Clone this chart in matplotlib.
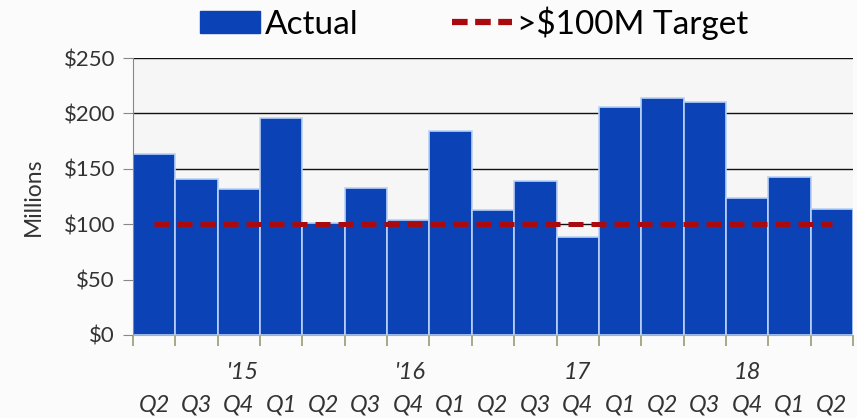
import numpy as np
import matplotlib.pyplot as plt
from matplotlib.patches import Patch
from matplotlib.lines import Line2D

quarters = ["Q2", "Q3", "Q4", "Q1", "Q2", "Q3", "Q4", "Q1", "Q2",
            "Q3", "Q4", "Q1", "Q2", "Q3", "Q4", "Q1", "Q2"]
actual = [163, 141, 132, 196, 101, 133, 104, 184, 113,
          139, 88, 206, 214, 210, 124, 143, 114]
target = [100] * len(quarters)
year_labels = ["'15", "'16", "17", "18"]
year_pos = [2.1, 6.05, 10.0, 14.0]

bar_color = "#0b42b6"
target_color = "#a80a0f"
text_color = "#333333"

plt.rcParams['font.family'] = ['Lato', 'DejaVu Sans']

fig = plt.figure(figsize=(8.57, 4.18), dpi=100, facecolor="#fbfbfb")
ax = fig.add_axes([0.1552, 0.1986, 0.9953 - 0.1552, 0.8612 - 0.1986])
ax.set_facecolor("#f6f6f6")

x = np.arange(len(quarters))

# gridlines under the bars
ax.set_axisbelow(True)
ax.yaxis.grid(True, color="#111111", linewidth=1.0)

ax.bar(x, actual, width=1.0, color=bar_color, edgecolor="#b9d2f5",
       linewidth=1.2, zorder=2)
ax.plot(x, target, color=target_color, linestyle=(0, (3.0, 1.6)),
        linewidth=3.6, zorder=3)

ax.set_xlim(-0.5, len(quarters) - 0.5)
ax.set_ylim(0, 250)
ax.set_yticks(np.arange(0, 251, 50))
ax.set_yticklabels([f"${v}" for v in range(0, 251, 50)],
                   fontsize=16, color=text_color)
ax.tick_params(axis="y", length=7, color="#888888", pad=6)

# ticks at bar boundaries, labels as text
ax.set_xticks(np.arange(-0.5, len(quarters), 1.0))
ax.set_xticklabels([])
ax.tick_params(axis="x", length=8, color="#9a9a70", width=1.2)

for i, q in enumerate(quarters):
    ax.text(i, -0.253, q, transform=ax.get_xaxis_transform(),
            ha="center", va="center", fontsize=17, style="italic",
            color=text_color)
for p, lab in zip(year_pos, year_labels):
    ax.text(p, -0.134, lab, transform=ax.get_xaxis_transform(),
            ha="center", va="center", fontsize=17, style="italic",
            color=text_color)

for s in ["top", "right"]:
    ax.spines[s].set_visible(False)
ax.spines["left"].set_color("#888888")
ax.spines["bottom"].set_color("#b0b0a0")

ax.set_ylabel("Millions", fontsize=16.5, color=text_color, labelpad=14)

handles = [Patch(facecolor=bar_color, edgecolor=bar_color),
           Line2D([0], [0], color=target_color, linestyle=(0, (2.5, 1.2)),
                  linewidth=4.5)]
fig.legend(handles, ["Actual", ">$100M Target"], loc="center",
           bbox_to_anchor=(0.553, 0.945), ncol=2, frameon=False,
           fontsize=24, handlelength=1.8, handleheight=0.65,
           columnspacing=2.8, handletextpad=0.15)

fig.savefig("out.png", dpi=100, facecolor=fig.get_facecolor())
